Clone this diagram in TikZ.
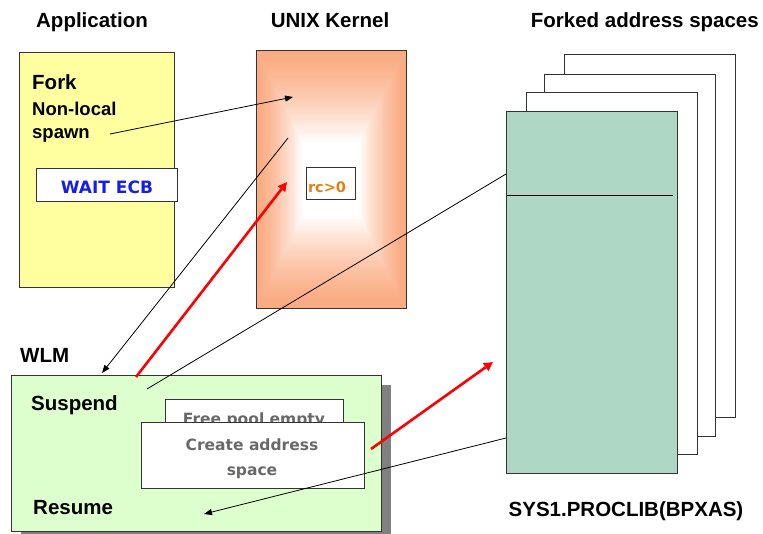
\documentclass[tikz,border=0pt]{standalone}
\usepackage{fontspec}
\setmainfont{Liberation Sans}
\newfontfamily\comicf{DejaVu Sans}
\usetikzlibrary{arrows.meta}
\definecolor{appyellow}{RGB}{255,255,160}
\definecolor{kern}{RGB}{250,170,128}
\definecolor{wlmgreen}{RGB}{221,255,205}
\definecolor{asgreen}{RGB}{174,216,197}
\definecolor{shadowgray}{RGB}{128,128,128}
\definecolor{textgray}{RGB}{105,105,105}
\definecolor{rcorange}{RGB}{222,130,20}
\definecolor{waitblue}{RGB}{20,30,240}
\begin{document}
\begin{tikzpicture}[x=1pt,y=-1pt,
  box/.style={draw=black!80, line width=0.8pt, inner sep=0pt, anchor=north west},
  title/.style={font=\bfseries\fontsize{20.5}{24}\selectfont, inner sep=0pt},
  lbl/.style={font=\bfseries\fontsize{20.5}{24}\selectfont, inner sep=0pt, anchor=base west},
  small/.style={font=\bfseries\fontsize{18.5}{22}\selectfont, inner sep=0pt, anchor=base west},
  comic/.style={font=\comicf\bfseries\fontsize{15.5}{19}\selectfont, inner sep=0pt, anchor=base, text=textgray},
  blk/.style={draw=black, line width=0.8pt, -{Triangle[length=8pt,width=6pt]}},
  red/.style={draw=red, line width=2.6pt, -{Triangle[length=9pt,width=9pt]}},
]
\useasboundingbox (0,0) rectangle (763,533);
\fill[white] (0,0) rectangle (763,533);

% titles
\node[title, anchor=base] (tapp) at (92,27) {Application};
\node[title, anchor=base] (tkern) at (330,27) {UNIX Kernel};
\node[title, anchor=base east] (tfork) at (759,27) {Forked address spaces};
\node[title, anchor=base] (tsys) at (626,516) {SYS1.PROCLIB(BPXAS)};

% application
\node[box, fill=appyellow, minimum width=155pt, minimum height=235pt] (app) at (19,52) {};
\node[lbl] (fork) at (32,89) {Fork};
\node[small] (nonlocal) at (32,115) {Non-local};
\node[small] (spawn) at (32,138) {spawn};
\node[box, fill=white, minimum width=141pt, minimum height=33pt] (wait) at (36,168) {};
\node[comic, text=waitblue, font=\comicf\bfseries\fontsize{17}{20}\selectfont] (waittxt) at (107,193) {WAIT ECB};

% kernel
\foreach \i in {0,...,50}{
  \pgfmathtruncatemacro\p{100*(1-(\i/50)^1.4)}
  \pgfmathsetmacro\dx{47*\i/50}
  \pgfmathsetmacro\dy{92*\i/50}
  \fill[kern!\p!white] (256+\dx,50+\dy) rectangle (406-\dx,308-\dy);
}
\node[box, minimum width=150pt, minimum height=258pt] (kernel) at (256,50) {};
\node[box, fill=white, minimum width=49pt, minimum height=32pt] (rc) at (306,167) {};
\node[comic, text=rcorange, font=\comicf\bfseries\fontsize{14.5}{18}\selectfont] (rctxt) at (327,192) {rc>0};

% forked address spaces
\node[box, fill=white, minimum width=171pt, minimum height=363pt] (as4) at (564,54) {};
\node[box, fill=white, minimum width=171pt, minimum height=362pt] (as3) at (544,74) {};
\node[box, fill=white, minimum width=171pt, minimum height=362pt] (as2) at (526,92) {};
\node[box, fill=asgreen, minimum width=171pt, minimum height=362pt] (as1) at (506,111) {};
\coordinate (divl) at (507,195);
\coordinate (divr) at (673,195);
\draw[line width=0.8pt] (divl) -- (divr);

% WLM
\node[lbl] (wlmlbl) at (20,362) {WLM};
\fill[shadowgray] (21,385) rectangle (391,545);
\node[box, fill=wlmgreen, minimum width=370pt, minimum height=156pt] (wlm) at (11,375) {};
\node[lbl] (suspend) at (31,410) {Suspend};
\node[lbl] (resume) at (33,514) {Resume};
\node[box, fill=white, minimum width=178pt, minimum height=56pt] (free) at (165,399) {};
\node[comic] (freetxt) at (254,424) {Free pool empty};
\node[box, fill=white, minimum width=223pt, minimum height=66pt] (create) at (141,422) {};
\node[comic] (createtxt) at (252,450) {Create address};
\node[comic] (spacetxt) at (252,475) {space};

% connectors
\coordinate (a1s) at (110,134);
\coordinate (a1e) at (293,97);
\coordinate (a2s) at (288,138);
\coordinate (a2e) at (102,373);
\coordinate (r1s) at (136,377);
\coordinate (r1e) at (287,182);
\coordinate (l1s) at (147,389);
\coordinate (l1e) at (506,174);
\coordinate (r2s) at (371,449);
\coordinate (r2e) at (493,362);
\coordinate (a3s) at (506,438);
\coordinate (a3e) at (204,514);

\draw[blk] (a1s) -- (a1e);
\draw[blk] (a2s) -- (a2e);
\draw[red] (r1s) -- (r1e);
\draw[line width=0.8pt] (l1s) -- (l1e);
\draw[red] (r2s) -- (r2e);
\draw[blk] (a3s) -- (a3e);
\end{tikzpicture}
\end{document}
